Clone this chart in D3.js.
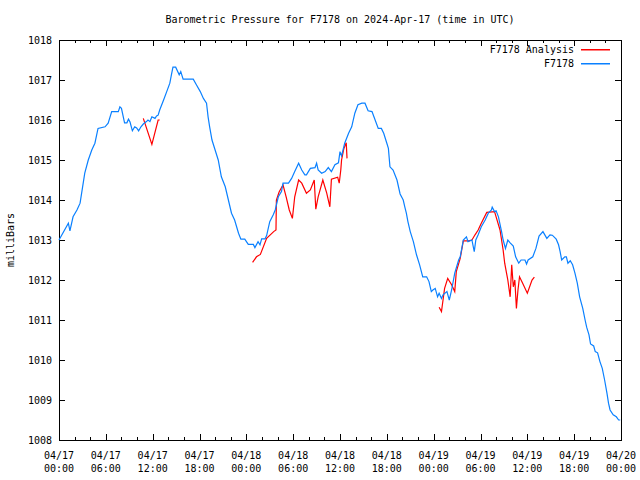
<!DOCTYPE html>
<html><head><meta charset="utf-8">
<script src="https://cdn.jsdelivr.net/npm/d3@7"></script>
<style>
html,body{margin:0;padding:0;background:#fff;}
svg{display:block;}
text{font-family:"DejaVu Sans Mono","Liberation Mono",monospace;font-size:10px;fill:#000;}
</style></head><body>
<script>
const title = "Barometric Pressure for F7178 on 2024-Apr-17 (time in UTC)";
const yLabel = "milliBars";
const seriesNames = ["F7178 Analysis", "F7178"];
const seriesColors = ["#ff0000", "#0a80ff"];
const yTicks = [1008,1009,1010,1011,1012,1013,1014,1015,1016,1017,1018];
const xTickHours = [0,6,12,18,24,30,36,42,48,54,60,66,72];
const xTickDates = ["04/17","04/17","04/17","04/17","04/18","04/18","04/18","04/18","04/19","04/19","04/19","04/19","04/20"];
const xTickTimes = ["00:00","06:00","12:00","18:00","00:00","06:00","12:00","18:00","00:00","06:00","12:00","18:00","00:00"];

// F7178 observations: hours since 2024-04-17 00:00 UTC, pressure mb
const obsHours = [0,1.2,1.4,1.8,2.3,2.7,2.9,3.3,3.75,4.2,4.6,5.0,5.9,6.3,6.75,7.6,7.8,8.0,8.4,8.7,8.9,9.1,9.4,9.7,9.95,10.2,10.5,10.8,11.2,11.4,11.65,11.9,12.3,12.5,12.7,12.9,13.4,13.8,14.2,14.4,14.6,14.95,15.4,15.6,15.9,17.2,17.6,18.1,18.5,18.9,19.1,19.3,19.6,20.0,20.4,20.8,21.3,21.7,22.1,22.5,23.0,23.3,23.8,24.25,24.9,25.1,25.5,25.75,25.96,26.4,26.6,27.0,27.45,27.7,28.1,28.5,28.7,29.4,29.8,30.2,30.7,31.1,31.5,31.7,32.2,32.8,33.0,33.2,33.65,34.1,34.5,34.9,35.35,35.8,36.0,36.2,36.6,37.1,37.5,37.9,38.3,38.8,39.2,39.6,40.1,40.5,40.9,41.3,41.6,42.0,42.2,42.4,42.8,43.3,43.7,44.1,44.3,44.5,44.7,45.0,45.4,45.8,46.2,46.6,47.1,47.4,47.7,47.9,48.2,48.5,48.7,49.0,49.2,49.7,50.0,50.3,50.7,51.2,51.4,51.8,52.2,52.4,52.9,53.2,53.4,53.7,54.1,54.6,55.0,55.4,55.5,55.8,56.0,56.3,56.7,56.9,57.2,57.5,57.8,58.2,58.5,58.9,59.2,59.7,59.9,60.1,60.7,61.1,61.5,62.0,62.5,62.9,63.2,63.7,64.0,64.2,64.4,64.8,65.0,65.2,65.5,65.8,66.1,66.4,66.7,67.1,67.4,67.6,67.9,68.1,68.5,68.7,69.0,69.3,69.6,69.9,70.2,70.4,70.6,71.0,71.4,71.7,71.9];
const obsValues = [1013.00,1013.42,1013.23,1013.58,1013.75,1013.92,1014.17,1014.67,1015.00,1015.25,1015.42,1015.79,1015.83,1015.92,1016.21,1016.21,1016.33,1016.29,1015.93,1015.93,1016.02,1015.95,1015.73,1015.83,1015.80,1015.73,1015.83,1015.90,1015.96,1016.00,1015.96,1016.08,1016.04,1016.10,1016.12,1016.25,1016.50,1016.71,1016.92,1017.13,1017.32,1017.32,1017.13,1017.21,1017.02,1017.02,1016.88,1016.71,1016.54,1016.42,1016.08,1015.83,1015.50,1015.25,1015.00,1014.58,1014.33,1014.00,1013.67,1013.50,1013.17,1013.02,1013.02,1012.89,1012.89,1012.81,1012.96,1012.88,1013.03,1013.03,1013.11,1013.46,1013.63,1013.75,1014.08,1014.21,1014.42,1014.42,1014.54,1014.71,1014.92,1014.75,1014.63,1014.63,1014.79,1014.81,1014.92,1014.75,1014.67,1014.71,1014.81,1014.71,1014.88,1014.93,1015.21,1015.10,1015.42,1015.67,1015.83,1016.17,1016.38,1016.42,1016.42,1016.23,1016.21,1016.00,1015.79,1015.79,1015.67,1015.42,1015.29,1014.83,1014.75,1014.50,1014.15,1014.00,1013.83,1013.67,1013.46,1013.21,1012.96,1012.63,1012.38,1012.08,1012.08,1011.96,1011.71,1011.75,1011.79,1011.58,1011.67,1011.54,1011.63,1011.71,1011.50,1011.75,1012.17,1012.50,1012.58,1013.00,1013.08,1012.96,1013.00,1012.71,1013.00,1013.13,1013.33,1013.50,1013.67,1013.75,1013.82,1013.71,1013.73,1013.58,1013.21,1013.00,1012.79,1013.00,1012.93,1012.85,1012.58,1012.42,1012.50,1012.50,1012.40,1012.50,1012.58,1012.79,1013.10,1013.21,1013.04,1013.13,1013.12,1013.02,1012.88,1012.71,1012.50,1012.58,1012.58,1012.42,1012.48,1012.38,1012.17,1011.92,1011.58,1011.29,1011.00,1010.82,1010.63,1010.40,1010.35,1010.21,1010.18,1009.96,1009.79,1009.50,1009.17,1008.92,1008.75,1008.63,1008.58,1008.50,1008.50];

// F7178 Analysis: null marks a gap in the series
const anaHours = [10.8,11.9,12.7,12.9,13.0,24.8,25.3,25.8,26.6,27.5,27.8,27.85,28.2,28.7,29.1,29.5,29.9,30.2,30.7,31.1,31.7,32.2,32.7,32.9,33.2,33.8,34.3,34.7,34.9,35.7,35.9,36.1,36.2,36.5,36.8,36.9,37.0,48.7,49.0,49.2,49.4,49.8,50.3,50.7,50.9,51.4,51.8,52.5,52.9,53.3,53.7,54.1,54.8,55.8,56.0,56.5,56.7,56.9,57.1,57.3,57.5,57.8,58.0,58.2,58.4,58.6,58.8,59.0,59.4,60.0,60.6,60.9];
const anaValues = [1016.04,1015.39,1016.00,1016.00,null,1012.44,1012.58,1012.64,1013.04,1013.21,1013.25,1014.00,1014.20,1014.38,1014.08,1013.75,1013.54,1014.08,1014.50,1014.42,1014.17,1014.25,1014.50,1013.77,1014.08,1014.50,1014.17,1013.83,1014.52,1014.57,1014.42,1014.75,1015.00,1015.29,1015.43,1015.04,null,1011.32,1011.21,1011.50,1011.79,1012.04,1011.88,1011.71,1012.21,1012.54,1012.98,1012.98,1013.00,1013.13,1013.25,1013.42,1013.69,1013.71,1013.58,1013.25,1013.00,1012.75,1012.42,1012.21,1012.00,1011.58,1012.38,1011.83,1012.00,1011.29,1011.75,1012.08,1011.92,1011.67,1012.00,1012.07];

const W = 640, H = 480;
const m = {left:59, right:621, top:40, bottom:440};
const svg = d3.select("body").append("svg").attr("width", W).attr("height", H);

const x = d3.scaleLinear().domain([0,72]).range([m.left, m.right]);
const y = d3.scaleLinear().domain([1008,1018]).range([m.bottom, m.top]);

const minorHours = d3.range(0, 73, 2).filter(h => h % 6 !== 0);

// axes with inward ticks (gnuplot style, mirrored)
const gB = svg.append("g").attr("transform", `translate(0,${m.bottom})`).attr("shape-rendering","crispEdges");
gB.call(d3.axisBottom(x).tickValues(xTickHours).tickSize(-6).tickFormat(""));
gB.append("g").call(d3.axisBottom(x).tickValues(minorHours).tickSize(-3).tickFormat(""));
const gT = svg.append("g").attr("transform", `translate(0,${m.top})`).attr("shape-rendering","crispEdges");
gT.call(d3.axisTop(x).tickValues(xTickHours).tickSize(-6).tickFormat(""));
gT.append("g").call(d3.axisTop(x).tickValues(minorHours).tickSize(-3).tickFormat(""));
const gL = svg.append("g").attr("transform", `translate(${m.left},0)`).attr("shape-rendering","crispEdges");
gL.call(d3.axisLeft(y).tickValues(yTicks).tickSize(-6).tickFormat(""));
const gR = svg.append("g").attr("transform", `translate(${m.right},0)`).attr("shape-rendering","crispEdges");
gR.call(d3.axisRight(y).tickValues(yTicks).tickSize(-6).tickFormat(""));
svg.selectAll(".domain").remove();
svg.selectAll(".tick line").attr("stroke","#000");

svg.append("rect").attr("x", m.left+0.5).attr("y", m.top+0.5)
  .attr("width", m.right-m.left).attr("height", m.bottom-m.top)
  .attr("fill","none").attr("stroke","#000").attr("shape-rendering","crispEdges");

// y tick labels
svg.append("g").selectAll("text").data(yTicks).join("text")
  .attr("x", m.left-7).attr("y", d => y(d)).attr("dy","0.35em")
  .attr("text-anchor","end").text(d => d);

// x tick labels
const xl = svg.append("g").selectAll("text").data(xTickHours).join("text")
  .attr("x", d => x(d)).attr("text-anchor","middle");
xl.append("tspan").attr("x", d => x(d)).attr("y", 459).text((d,i) => xTickDates[i]);
xl.append("tspan").attr("x", d => x(d)).attr("y", 472).text((d,i) => xTickTimes[i]);

// title & y label
svg.append("text").attr("x", 340).attr("y", 23).attr("text-anchor","middle").text(title);
svg.append("text").attr("transform","translate(14,240) rotate(-90)").attr("text-anchor","middle").text(yLabel);

// lines
const obs = obsHours.map((h,i) => ({h, v: obsValues[i]}));
const ana = anaHours.map((h,i) => ({h, v: anaValues[i]}));
const line = d3.line().defined(d => d.v !== null).x(d => x(d.h)).y(d => y(d.v));

svg.append("path").datum(ana).attr("d", line).attr("fill","none")
  .attr("stroke", seriesColors[0]).attr("stroke-width", 1.2);
svg.append("path").datum(obs).attr("d", line).attr("fill","none")
  .attr("stroke", seriesColors[1]).attr("stroke-width", 1.2);

// legend
const leg = svg.append("g");
seriesNames.forEach((n, i) => {
  const ly = 49 + i*14;
  leg.append("text").attr("x", 574).attr("y", ly).attr("dy","0.35em").attr("text-anchor","end").text(n);
  leg.append("rect").attr("x", 581).attr("y", ly).attr("width", 29).attr("height", 1.5)
    .attr("fill", seriesColors[i]);
});
</script>
</body></html>
